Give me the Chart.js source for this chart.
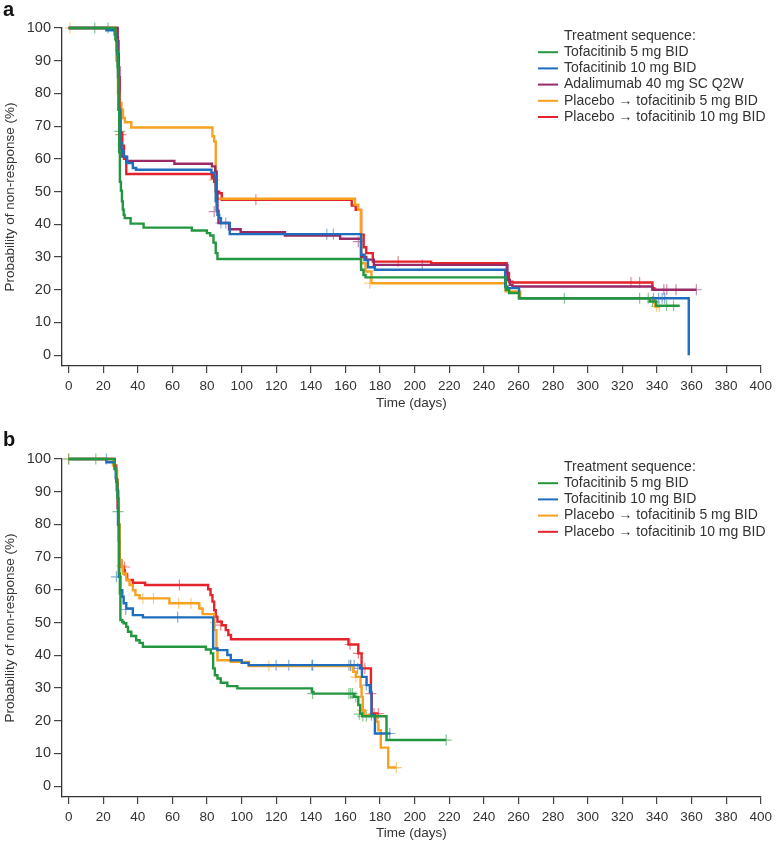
<!DOCTYPE html>
<html>
<head>
<meta charset="utf-8">
<script src="https://cdn.jsdelivr.net/npm/chart.js@4.4.1/dist/chart.umd.min.js"></script>
<style>
  html, body { margin: 0; padding: 0; background: #fff; }
  #wrap { position: relative; width: 777px; height: 843px; }
  canvas { position: absolute; left: 0; }
  #chartA { top: 0; }
  #chartB { top: 430px; }
</style>
</head>
<body>
<div id="wrap">
  <canvas id="chartA" width="777" height="430"></canvas>
  <canvas id="chartB" width="777" height="413"></canvas>
</div>
<script>
// axis ticks
const xTicks = [0,20,40,60,80,100,120,140,160,180,200,220,240,260,280,300,320,340,360,380,400];
const yTicks = [0,10,20,30,40,50,60,70,80,90,100];

const legendTitle = 'Treatment sequence:';
const namesA = ['Tofacitinib 5 mg BID', 'Tofacitinib 10 mg BID', 'Adalimumab 40 mg SC Q2W',
                'Placebo \u2192 tofacitinib 5 mg BID', 'Placebo \u2192 tofacitinib 10 mg BID'];
const namesB = ['Tofacitinib 5 mg BID', 'Tofacitinib 10 mg BID',
                'Placebo \u2192 tofacitinib 5 mg BID', 'Placebo \u2192 tofacitinib 10 mg BID'];

// panel a - [day, probability after the step]
const aTofa5 = [[0,100],[27,96.5],[27.8,93],[28.3,88],[28.8,75],[29.2,62],[29.6,53],[30.2,50.3],[30.8,47],[31.3,44.5],[31.8,42.9],[32.4,41.9],[35.8,40.2],[43.3,39.0],[71.2,38.1],[79.9,37.3],[81.8,36.6],[83.7,34.4],[85,31.2],[86,29.4],[169,26.1],[170.4,24.5],[171.6,23.8],[252.6,20.0],[254.6,19.0],[260.3,17.4],[336,16.4],[339.6,15.1],[353.2,15.1]];
const aTofa10 = [[0,100],[21.8,99.3],[26.6,98],[27.5,96],[28,92],[28.5,85],[29,75],[29.6,64.8],[30.6,62.3],[31.8,60.7],[33.8,58.7],[37.1,57.2],[39,56.7],[82.5,55.8],[84.1,54.6],[85,47],[85.5,44.4],[86,42.9],[87,41.9],[88,40.4],[93.1,37.0],[169,30.7],[171,29.1],[173,26.9],[177,26.1],[252.3,21.0],[253.6,20.5],[260.3,17.4],[358.4,0]];
const aAda = [[0,100],[28.3,96],[28.8,88],[29.3,75],[29.8,63],[31,60.7],[33.3,59.4],[61.1,58.5],[82.8,57.7],[84.7,56.1],[85.5,50],[86,44.2],[86.6,40.4],[92.7,38.5],[99.4,37.6],[125,36.6],[156.9,35.6],[169,30],[172,29.2],[176.4,27.6],[253.6,23.0],[255,21.5],[256.5,21.0],[337.4,20.0],[362.8,20.0]];
const aPbo5 = [[0,100],[27.6,90],[28.5,80],[29.5,77.1],[30.5,75.0],[31.4,72.5],[32.5,71.2],[36.2,69.6],[83.1,66.9],[84.1,65.3],[85,56],[85.6,47.8],[165.5,46.0],[167.4,44.4],[169,28.1],[171.6,25.6],[175,22.0],[252.6,19.5],[261,17.4],[339,14.9],[342,14.9]];
const aPbo10 = [[0,100],[28,97],[28.5,92],[29,85],[29.5,75],[30,68],[31,64],[32,60],[33.3,55.4],[82.8,54.1],[84.1,53],[85,50],[87,49.5],[88.5,47.5],[163.6,45.7],[165.9,44.4],[169,36.8],[170.5,33],[172,31.2],[175.8,28.6],[209.5,28.1],[253.2,25.1],[254.5,22.5],[256.5,22.2],[337.4,20.5],[338.5,20.0],[340,20.0]];

// panel a - censored observations
const aTofa5Cens = [[15.1,100],[22.8,100],[29.5,68.4],[286.5,17.4],[330,17.4],[335,17.4],[337.5,16.4],[345.6,15.1],[349.6,15.1]];
const aTofa10Cens = [[88,40.4],[90.8,40.4],[149.2,37],[153,37],[338,17.4],[341,17.4],[343,17.4],[344.5,17.4]];
const aAdaCens = [[84.1,43.9],[167.4,34.7],[204.4,27.6],[344,20],[345.7,20],[351,20],[362.8,20]];
const aPbo5Cens = [[0.8,100],[84.1,53.6],[174,22],[339.8,14.9],[341.4,14.9]];
const aPbo10Cens = [[30.2,67.4],[108.2,47.5],[190.4,28.6],[325,22.2],[330,22.2]];

// panel b
const bTofa5 = [[0,100],[26.6,97],[27.5,93],[28.2,88],[28.8,80],[29.2,65],[29.6,58.9],[29.9,50.8],[31.0,50.2],[31.8,49.8],[33.3,48.7],[34.3,47.2],[36.2,45.9],[39,44.6],[41,43.8],[42.9,42.6],[79.3,41.8],[82.2,40.6],[83.5,36],[84.5,33.9],[86,32.9],[87.9,31.6],[91.7,30.6],[97.5,29.9],[140.6,28.8],[141.5,28.3],[165,27.3],[167.4,24.8],[168.5,22.2],[169.7,21.4],[183.7,14.1],[218.2,14.1]];
const bTofa10 = [[0,100],[21.8,99],[26.6,97],[27.2,94.1],[27.8,90.5],[28.5,80],[29,64],[29.9,59.9],[31,57.9],[31.8,55.9],[33.3,54.3],[37.1,52.3],[42.9,51.6],[83.5,42.1],[86,41.6],[91.7,40.1],[93.7,38.5],[100,37.7],[104,37.0],[168.4,36.0],[169.5,33.4],[172.2,30.9],[174.1,28.8],[175,21.7],[177,16.1],[186,16.1]];
const bPbo5 = [[0,100],[25.6,98],[26.8,96.6],[28,90],[28.8,80],[29.5,69.1],[30.5,67.1],[31.4,65.0],[33.3,63.0],[35.2,61.5],[37.1,59.9],[38.6,58.4],[41,57.4],[58.2,55.9],[75.5,54.3],[77.4,52.6],[84.1,47.7],[85.4,42],[86,38.5],[93.7,38.0],[104.2,36.7],[164.5,35.0],[166,33.4],[168.7,30.4],[169.3,27.3],[170,23.2],[171,21.7],[178,19.7],[179,17.1],[180.4,11.8],[184.7,5.7],[189.4,5.7]];
const bPbo10 = [[0,100],[26.6,98],[27.5,93.6],[28.3,85],[29,75],[29.5,69.1],[30.5,67.1],[31.8,66.1],[32.4,64.8],[33.8,63.0],[37.1,62.2],[44.2,61.5],[80.6,60.2],[82,58.4],[83.1,56.4],[84.1,53.8],[85,51.8],[86,50.3],[88.5,49.2],[90.8,47.7],[92.3,46.2],[93.8,44.9],[161.7,43.3],[167.4,40.6],[169.3,36.0],[174.7,28.3],[175.2,22.2],[179,22.2]];

const bTofa5Cens = [[0,100],[15.7,100],[28.5,83.9],[141,28.3],[162,28.3],[163,28.3],[164,28.3],[166,27.3],[168,22],[170,21.4],[172,21.4],[218.2,14.1]];
const bTofa10Cens = [[21.8,100],[27.6,64],[33,54],[63,51.6],[119.9,37],[127.2,37],[140.6,37],[141,37],[162,37],[163,37],[165,37],[167,36],[172,30.9],[175,21.7],[185.6,16.1]];
const bPbo5Cens = [[0,100],[30.5,67.3],[42.9,57.4],[49,57.4],[63.6,55.9],[70.7,55.9],[84.7,50],[115.7,36.7],[163,36.7],[166,33.4],[170,23.2],[189.4,5.7]];
const bPbo10Cens = [[32.4,67],[64,61.5],[87.9,49.2],[162.6,43.3],[167.4,40.6],[171.2,36],[174.7,28.3],[176.5,22.2],[179,22.2]];

const GREEN = '#23973f', BLUE = '#1f6dbd', PURPLE = '#992a68', ORANGE = '#f7a11e', RED = '#e5232b';
const FONT = '"Liberation Sans", Arial, Helvetica, sans-serif';
const TXT = '#333';

function fade(hex, a) {
  const n = parseInt(hex.slice(1), 16);
  return `rgba(${n >> 16},${(n >> 8) & 255},${n & 255},${a})`;
}

function stepSet(label, pts, color) {
  return {
    label, data: pts.map(p => ({ x: p[0], y: p[1] })),
    borderColor: color, backgroundColor: color, borderWidth: 2.4,
    stepped: 'before', pointRadius: 0, fill: false, clip: false
  };
}

function censorSet(pts, color) {
  return {
    type: 'scatter', label: '', censor: true,
    data: pts.map(p => ({ x: p[0], y: p[1] })),
    showLine: false, pointStyle: 'cross', pointRadius: 5.5,
    pointBorderWidth: 1.2, borderColor: fade(color, 0.55), backgroundColor: fade(color, 0.55),
    clip: false
  };
}

// legend + panel letter
const kmDecor = {
  id: 'kmDecor',
  afterDraw(chart, args, o) {
    const ctx = chart.ctx;
    ctx.save();
    ctx.textBaseline = 'middle';
    ctx.fillStyle = '#111';
    ctx.font = 'bold 20px ' + FONT;
    ctx.fillText(o.letter, 3, 10);
    ctx.fillStyle = TXT;
    ctx.font = '14px ' + FONT;
    ctx.fillText(legendTitle, o.x + 26, o.y);
    let y = o.y + 16.2;
    chart.data.datasets.filter(d => !d.censor).forEach(d => {
      ctx.strokeStyle = d.borderColor;
      ctx.lineWidth = 2;
      ctx.beginPath();
      ctx.moveTo(o.x, y);
      ctx.lineTo(o.x + 20, y);
      ctx.stroke();
      ctx.fillText(d.label, o.x + 26, y);
      y += 16.2;
    });
    ctx.restore();
  }
};

function makeChart(id, series, top, xAxisH, titlePad, letter, legY) {
  const steps = series.map(s => stepSet(s[0], s[1], s[3]));
  const cens = series.map(s => censorSet(s[2], s[3]));
  return new Chart(document.getElementById(id), {
    type: 'line',
    data: { datasets: steps.concat(cens) },
    options: {
      responsive: false,
      animation: false,
      layout: { padding: { top: top, right: 12, left: 0, bottom: 0 } },
      plugins: {
        legend: { display: false },
        tooltip: { enabled: false },
        kmDecor: { letter: letter, x: 538, y: legY }
      },
      scales: {
        x: {
          type: 'linear', min: -3.85, max: 400,
          afterBuildTicks: s => { s.ticks = xTicks.map(v => ({ value: v })); },
          afterFit: s => { s.height = xAxisH; },
          grid: { drawOnChartArea: false, drawTicks: true, tickLength: 7, color: '#444', lineWidth: 1.2 },
          border: { display: true, color: '#333', width: 1.3 },
          ticks: { padding: 5, color: TXT, font: { family: FONT, size: 13.5 }, maxRotation: 0, autoSkip: false },
          title: { display: true, text: 'Time (days)', color: TXT, font: { family: FONT, size: 13.5 }, padding: { top: 0, bottom: titlePad } }
        },
        y: {
          type: 'linear', min: -3.3, max: 100,
          afterBuildTicks: s => { s.ticks = yTicks.map(v => ({ value: v })); },
          afterFit: s => { s.width = 62; },
          grid: { drawOnChartArea: false, drawTicks: true, tickLength: 8, color: '#444', lineWidth: 1.2 },
          border: { display: true, color: '#333', width: 1.3 },
          ticks: { padding: 3, color: TXT, font: { family: FONT, size: 14.5 } },
          title: { display: true, text: 'Probability of non-response (%)', color: TXT, font: { family: FONT, size: 13.5 }, padding: { top: 2, bottom: 0 } }
        }
      }
    },
    plugins: [kmDecor]
  });
}

makeChart('chartA', [
  [namesA[0], aTofa5, aTofa5Cens, GREEN],
  [namesA[1], aTofa10, aTofa10Cens, BLUE],
  [namesA[2], aAda, aAdaCens, PURPLE],
  [namesA[3], aPbo5, aPbo5Cens, ORANGE],
  [namesA[4], aPbo10, aPbo10Cens, RED]
], 28, 64, 19, 'a', 36);

makeChart('chartB', [
  [namesB[0], bTofa5, bTofa5Cens, GREEN],
  [namesB[1], bTofa10, bTofa10Cens, BLUE],
  [namesB[2], bPbo5, bPbo5Cens, ORANGE],
  [namesB[3], bPbo10, bPbo10Cens, RED]
], 29, 46, 2, 'b', 37);
</script>
</body>
</html>
